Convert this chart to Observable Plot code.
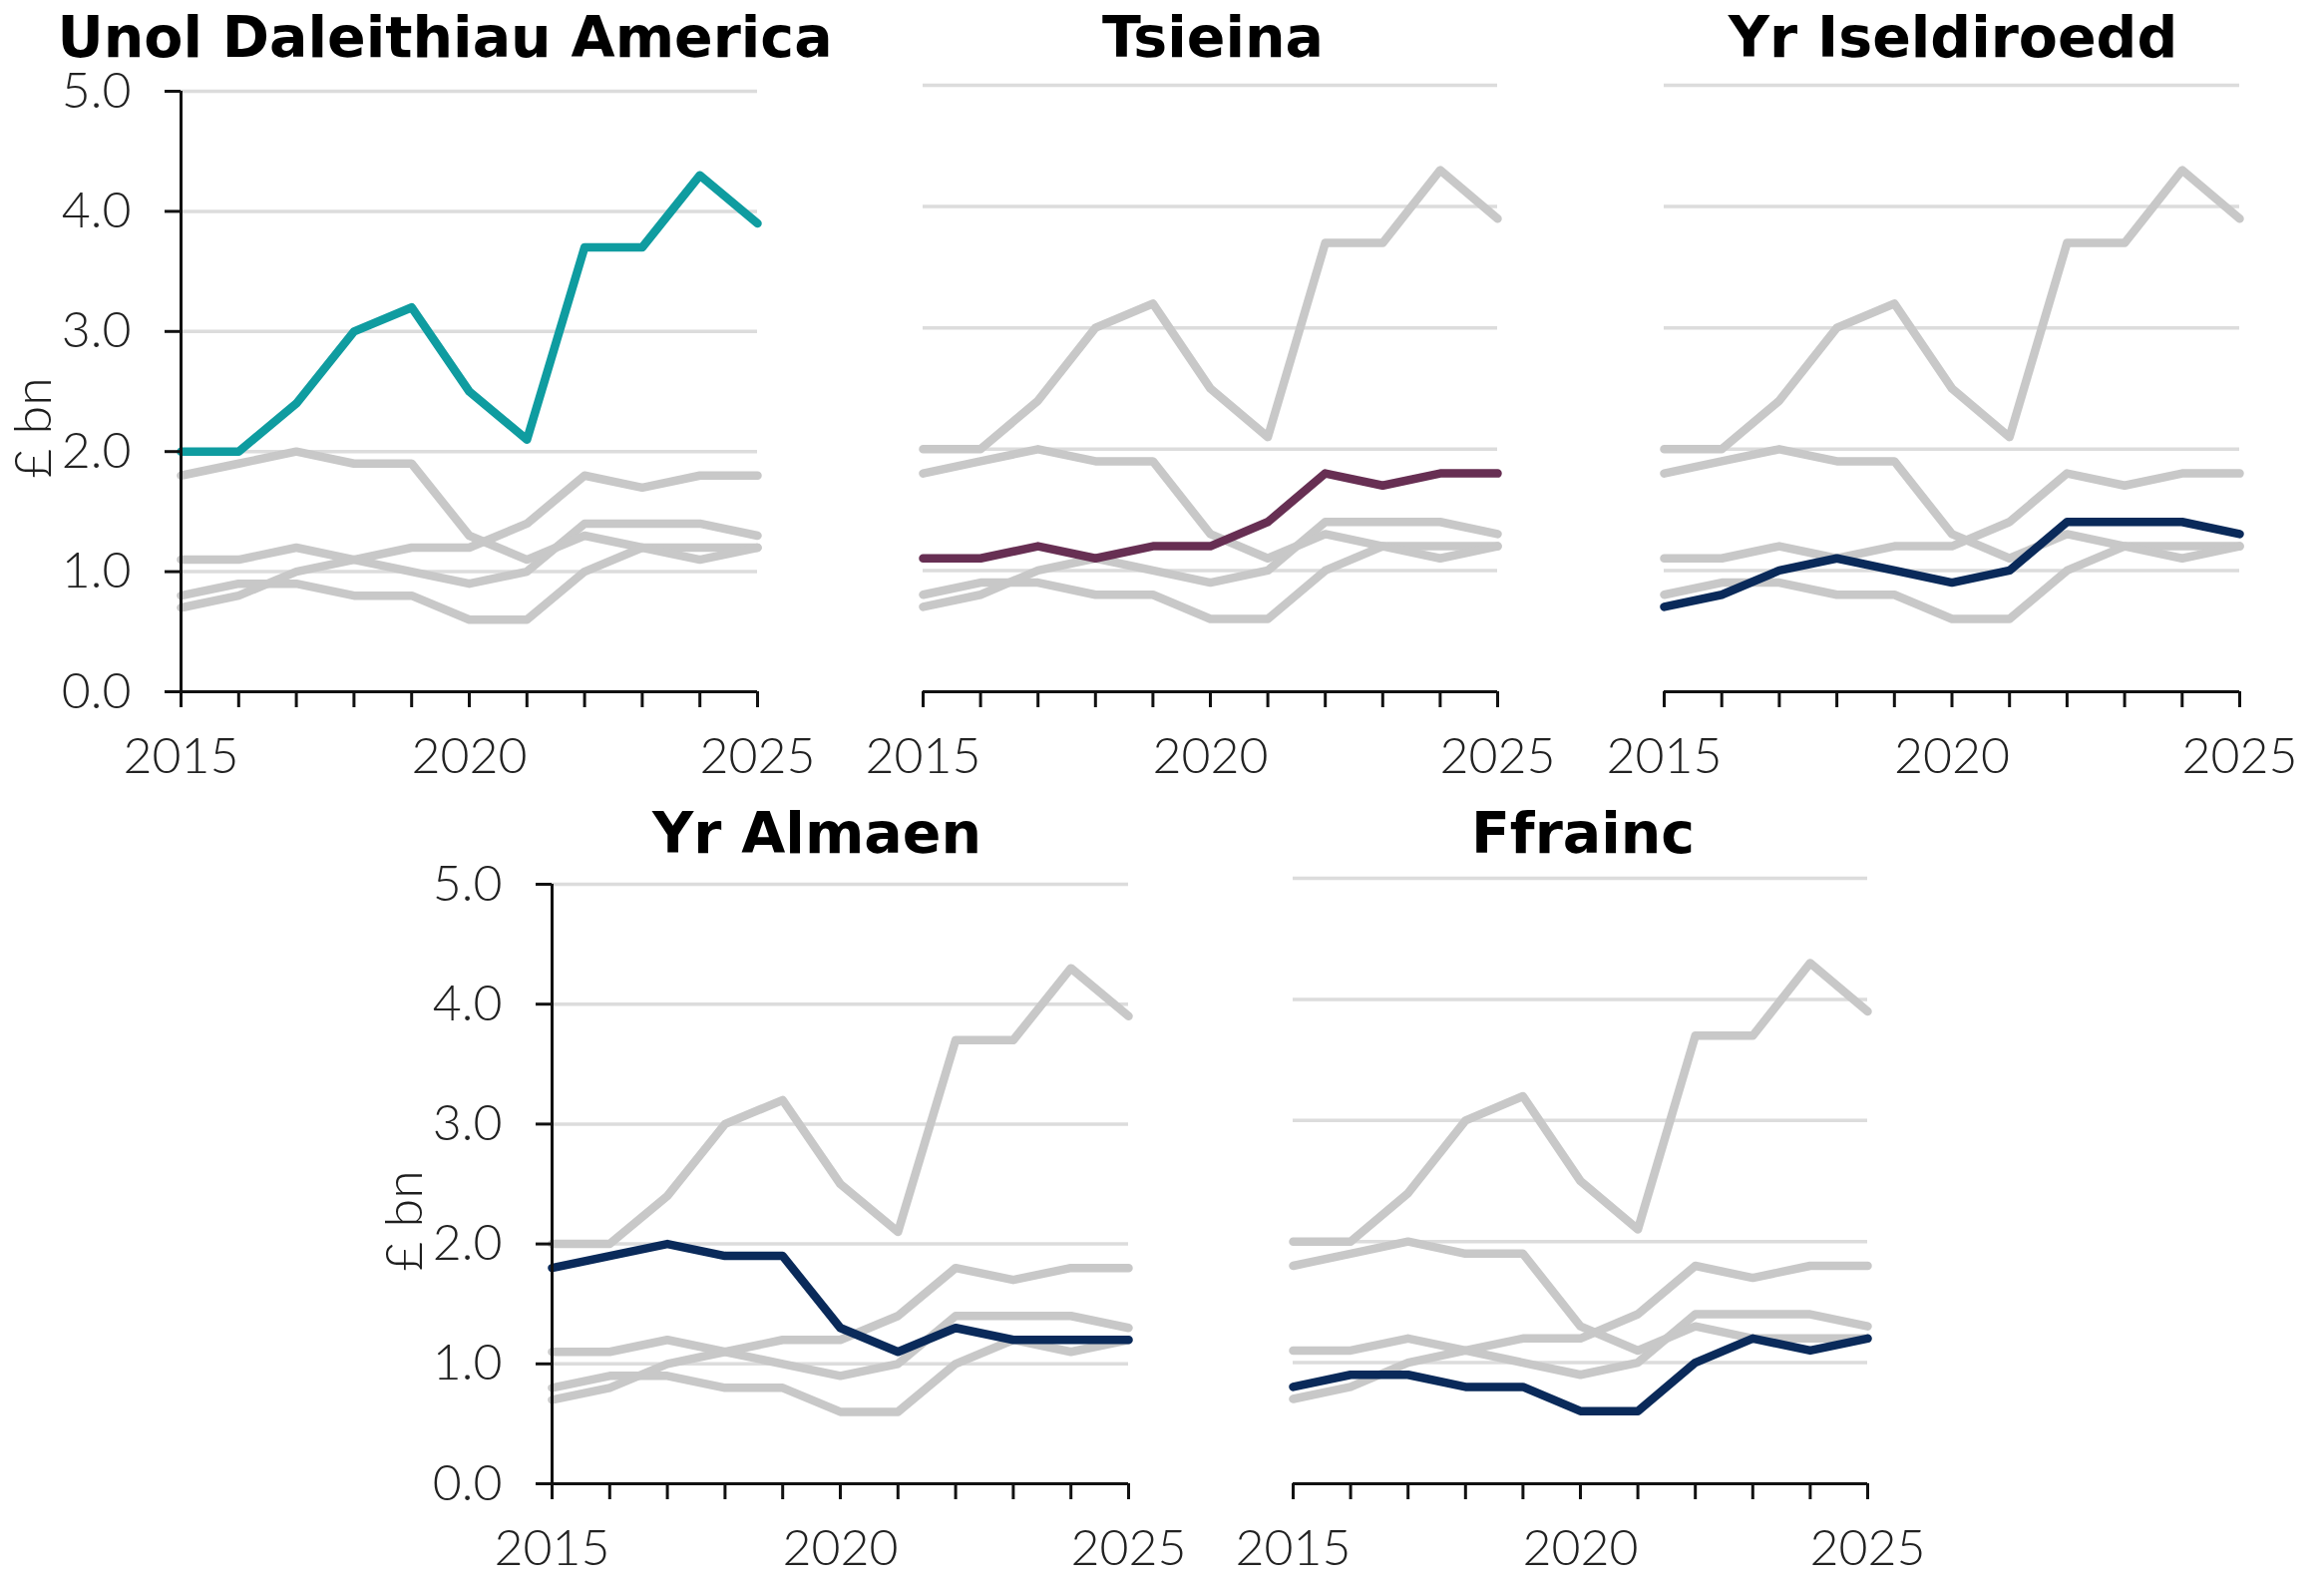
<!DOCTYPE html>
<html>
<head>
<meta charset="utf-8">
<script src="https://cdn.jsdelivr.net/npm/d3@7"></script>
<script src="https://cdn.jsdelivr.net/npm/@observablehq/plot@0.6"></script>
<style>
  body { margin: 0; background: #fff; }
  #page { position: relative; width: 2330px; height: 1590px; overflow: hidden; background: #fff; }
  .title {
    position: absolute; width: 1000px; margin-left: -500px;
    font-family: "DejaVu Sans", sans-serif; font-weight: bold; font-size: 57px;
    line-height: 1; color: #000; text-align: center; white-space: nowrap;
  }
  .ylab {
    position: absolute; font-family: Lato, sans-serif; font-weight: 300; font-size: 52px;
    line-height: 1; color: #1e1e1e; white-space: nowrap;
    transform: translate(-50%, -50%) rotate(-90deg);
  }
  .panel { position: absolute; }
</style>
</head>
<body>
<div id="page"></div>
<script>
// Trade values, £ bn, by partner country
const years = [2015, 2016, 2017, 2018, 2019, 2020, 2021, 2022, 2023, 2024, 2025];
const labelledYears = [2015, 2020, 2025];
const yTicks = [0, 1, 2, 3, 4, 5];
const gridValues = [1, 2, 3, 4, 5];

const countries = ["Unol Daleithiau America", "Tsieina", "Yr Iseldiroedd", "Yr Almaen", "Ffrainc"];
const usa         = [2.0, 2.0, 2.4, 3.0, 3.2, 2.5, 2.1, 3.7, 3.7, 4.3, 3.9];
const china       = [1.1, 1.1, 1.2, 1.1, 1.2, 1.2, 1.4, 1.8, 1.7, 1.8, 1.8];
const netherlands = [0.7, 0.8, 1.0, 1.1, 1.0, 0.9, 1.0, 1.4, 1.4, 1.4, 1.3];
const germany     = [1.8, 1.9, 2.0, 1.9, 1.9, 1.3, 1.1, 1.3, 1.2, 1.2, 1.2];
const france      = [0.8, 0.9, 0.9, 0.8, 0.8, 0.6, 0.6, 1.0, 1.2, 1.1, 1.2];
const seriesValues = [usa, china, netherlands, germany, france];
const highlightColors = ["#0f9ca0", "#672f53", "#0a2a5a", "#0a2a5a", "#0a2a5a"];
const yAxisLabel = "£ bn";

const rows = countries.flatMap((country, i) =>
  years.map((year, j) => ({country, year, value: seriesValues[i][j]}))
);

// Panel boxes on the page (left/top/size) and the plot margins inside each
const layout = [
  {left: 0,    top: 70,  width: 860, height: 720, ml: 181, mr: 101, mt: 21, mb: 97, yAxis: true,  titleX: 446,  titleY: 9},
  {left: 860,  top: 70,  width: 740, height: 720, ml: 65,  mr: 99,  mt: 15, mb: 97, yAxis: false, titleX: 1216, titleY: 9},
  {left: 1600, top: 70,  width: 730, height: 720, ml: 68,  mr: 85,  mt: 15, mb: 97, yAxis: false, titleX: 1958, titleY: 9},
  {left: 360,  top: 870, width: 870, height: 700, ml: 193, mr: 99,  mt: 16, mb: 83, yAxis: true,  titleX: 819,  titleY: 807},
  {left: 1230, top: 870, width: 770, height: 700, ml: 66,  mr: 128, mt: 10, mb: 83, yAxis: false, titleX: 1587, titleY: 807}
];

const page = document.getElementById("page");
const textColor = "#222";

countries.forEach((name, i) => {
  const box = layout[i];
  const others = rows.filter(d => d.country !== name);
  const own = rows.filter(d => d.country === name);
  const lineStyle = {x: "year", y: "value", z: "country", strokeWidth: 8.5, strokeLinecap: "round", strokeLinejoin: "round"};

  const marks = [
    Plot.ruleY(gridValues, {stroke: "#dcdcdc", strokeWidth: 3.5}),
    Plot.line(others, {...lineStyle, stroke: "#c8c8c8"}),
    Plot.line(own, {...lineStyle, stroke: highlightColors[i]}),
    Plot.ruleY([0], {stroke: "#111", strokeWidth: 3}),
    Plot.axisX({
      ticks: years, tickSize: 16, tickPadding: 30, label: null,
      tickFormat: d => labelledYears.includes(d) ? String(d) : "",
      stroke: "#111", strokeWidth: 3, fill: textColor, fontSize: 50
    })
  ];
  if (box.yAxis) {
    marks.push(
      Plot.ruleX([years[0]], {stroke: "#111", strokeWidth: 3}),
      Plot.axisY({
        ticks: yTicks, tickSize: 16, tickPadding: 34, label: null,
        tickFormat: d3.format(".1f"),
        stroke: "#111", strokeWidth: 3, fill: textColor, fontSize: 50
      })
    );
  }

  const chart = Plot.plot({
    width: box.width,
    height: box.height,
    marginLeft: box.ml,
    marginRight: box.mr,
    marginTop: box.mt,
    marginBottom: box.mb,
    x: {domain: [years[0], years[years.length - 1]], label: null},
    y: {domain: [0, 5], label: null, axis: box.yAxis ? undefined : null},
    style: {fontFamily: "Lato, sans-serif", fontWeight: 300, background: "transparent", overflow: "visible"},
    marks
  });

  const holder = document.createElement("div");
  holder.className = "panel";
  holder.style.left = box.left + "px";
  holder.style.top = box.top + "px";
  holder.appendChild(chart);
  page.appendChild(holder);

  const title = document.createElement("div");
  title.className = "title";
  title.textContent = name;
  title.style.left = box.titleX + "px";
  title.style.top = box.titleY + "px";
  page.appendChild(title);

  if (box.yAxis) {
    const lab = document.createElement("div");
    lab.className = "ylab";
    lab.textContent = yAxisLabel;
    lab.style.left = (box.left + box.ml - 150) + "px";
    lab.style.top = (box.top + (box.mt + box.height - box.mb) / 2 + 37) + "px";
    page.appendChild(lab);
  }
});
</script>
</body>
</html>
